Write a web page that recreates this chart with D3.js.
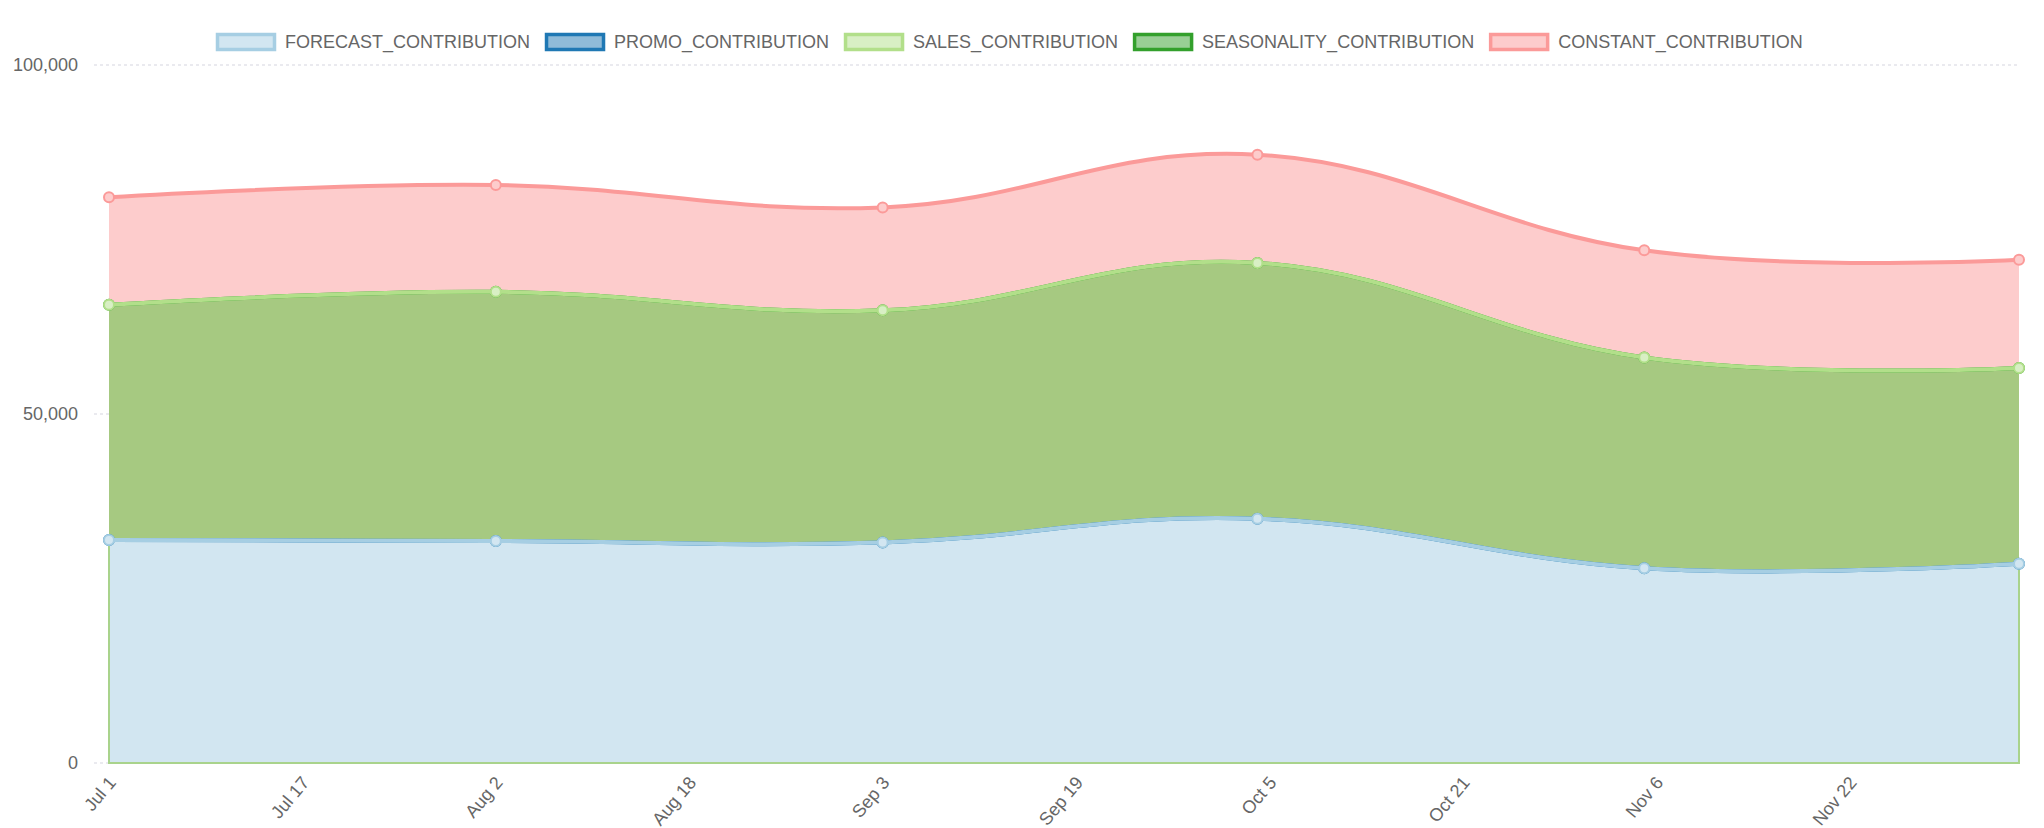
<!DOCTYPE html>
<html>
<head>
<meta charset="utf-8">
<script src="https://cdn.jsdelivr.net/npm/d3@7"></script>
<style>
  body { margin: 0; background: #fff; }
  text { font-family: "Liberation Sans", Arial, Helvetica, sans-serif; fill: #666; }
</style>
</head>
<body>
<div id="chart"></div>
<script>
// Data
var dates = ["2024-07-01", "2024-08-02", "2024-09-03", "2024-10-04", "2024-11-05", "2024-12-06"];
var forecast = [31950, 31800, 31600, 35000, 27900, 28550];
var promo = [0, 0, 0, 0, 0, 0];
var sales = [33700, 35700, 33250, 36650, 30200, 28050];
var seasonality = [0, 0, 0, 0, 0, 0];
var constant = [15400, 15300, 14750, 15500, 15350, 15500];

var seriesNames = ["FORECAST_CONTRIBUTION", "PROMO_CONTRIBUTION", "SALES_CONTRIBUTION", "SEASONALITY_CONTRIBUTION", "CONSTANT_CONTRIBUTION"];
var xTickLabels = ["Jul 1", "Jul 17", "Aug 2", "Aug 18", "Sep 3", "Sep 19", "Oct 5", "Oct 21", "Nov 6", "Nov 22"];
var yTicks = [0, 50000, 100000];

// Styles
var lineColors = ["#a6cee3", "#1f78b4", "#b2df8a", "#33a02c", "#fb9a99"];
var boxFills = ["#d2e6f1", "#8fbbd9", "#d8efc4", "#99cf95", "#fdcccc"];
var areaFills = ["#d2e6f1", "#8fbbd9", "#a6c981", "#99cf95", "#fdcccc"];

var svgWidth = 2044;
var svgHeight = 828;
var plot = { left: 109, right: 2019, top: 65, bottom: 763 };

var svg = d3.select("#chart")
    .append("svg")
    .attr("width", svgWidth)
    .attr("height", svgHeight);

var parse = d3.timeParse("%Y-%m-%d");
var parseTick = d3.timeParse("%Y %b %d");

// Build table for the stack
var table = dates.map(function(d, i) {
    var row = { date: parse(d) };
    row[seriesNames[0]] = forecast[i];
    row[seriesNames[1]] = promo[i];
    row[seriesNames[2]] = sales[i];
    row[seriesNames[3]] = seasonality[i];
    row[seriesNames[4]] = constant[i];
    return row;
});

var stacked = d3.stack().keys(seriesNames)(table);

//Scales
var x = d3.scaleTime()
    .domain(d3.extent(table, d => d.date))
    .range([plot.left, plot.right]);

var y = d3.scaleLinear()
    .domain([0, 100000])
    .range([plot.bottom, plot.top]);

// Grid lines
svg.append("g")
    .selectAll("line")
    .data(yTicks)
    .enter()
    .append("line")
    .attr("x1", plot.left - 15)
    .attr("x2", plot.right)
    .attr("y1", d => y(d))
    .attr("y2", d => y(d))
    .attr("stroke", "#e3e3ea")
    .attr("stroke-width", 1.5)
    .attr("stroke-dasharray", "3,3");

// Y labels
svg.append("g")
    .selectAll("text")
    .data(yTicks)
    .enter()
    .append("text")
    .attr("x", 78)
    .attr("y", d => y(d))
    .attr("dy", "0.35em")
    .attr("text-anchor", "end")
    .attr("font-size", 18)
    .text(d => d3.format(",")(d));

// X labels
var xTickDates = xTickLabels.map(t => parseTick("2024 " + t));
svg.append("g")
    .selectAll("text")
    .data(xTickDates)
    .enter()
    .append("text")
    .attr("transform", d => `translate(${x(d) + 3}, ${plot.bottom + 16}) rotate(-50)`)
    .attr("text-anchor", "end")
    .attr("dy", "0.35em")
    .attr("font-size", 18)
    .text((d, i) => xTickLabels[i]);

var curve = d3.curveCardinal.tension(-0.2);

var area = d3.area()
    .x(d => x(d.data.date))
    .y0(d => y(d[0]))
    .y1(d => y(d[1]))
    .curve(curve);

var line = d3.line()
    .x(d => x(d.data.date))
    .y(d => y(d[1]))
    .curve(curve);

// Fills first
svg.append("g")
    .selectAll("path")
    .data(stacked)
    .enter()
    .append("path")
    .attr("d", area)
    .attr("fill", (d, i) => areaFills[i]);

// Thin green edge around the bottom band
var f0 = stacked[0][0], fN = stacked[0][stacked[0].length - 1];
svg.append("path")
    .attr("d", `M${x(f0.data.date)},${y(f0[1])}L${x(f0.data.date)},${y(0)}L${x(fN.data.date)},${y(0)}L${x(fN.data.date)},${y(fN[1])}`)
    .attr("fill", "none")
    .attr("stroke", "#a9d38c")
    .attr("stroke-width", 2);

// Lines and points, last series drawn first
var order = d3.range(stacked.length).reverse();
order.forEach(function(i) {
    var s = stacked[i];
    svg.append("path")
        .datum(s)
        .attr("d", line)
        .attr("fill", "none")
        .attr("stroke", lineColors[i])
        .attr("stroke-width", 4);

    svg.append("g")
        .selectAll("circle")
        .data(s)
        .enter()
        .append("circle")
        .attr("cx", d => x(d.data.date))
        .attr("cy", d => y(d[1]))
        .attr("r", 5)
        .attr("fill", boxFills[i])
        .attr("stroke", lineColors[i])
        .attr("stroke-width", 2);
});

// Legend
var legend = svg.append("g");
var lx = 216;
seriesNames.forEach(function(name, i) {
    legend.append("rect")
        .attr("x", lx + 1.5)
        .attr("y", 34.5)
        .attr("width", 57)
        .attr("height", 15)
        .attr("fill", boxFills[i])
        .attr("stroke", lineColors[i])
        .attr("stroke-width", 3.5);
    var t = legend.append("text")
        .attr("x", lx + 69)
        .attr("y", 42)
        .attr("dy", "0.35em")
        .attr("font-size", 18)
        .text(name);
    lx += 69 + t.node().getComputedTextLength() + 15;
});
</script>
</body>
</html>
